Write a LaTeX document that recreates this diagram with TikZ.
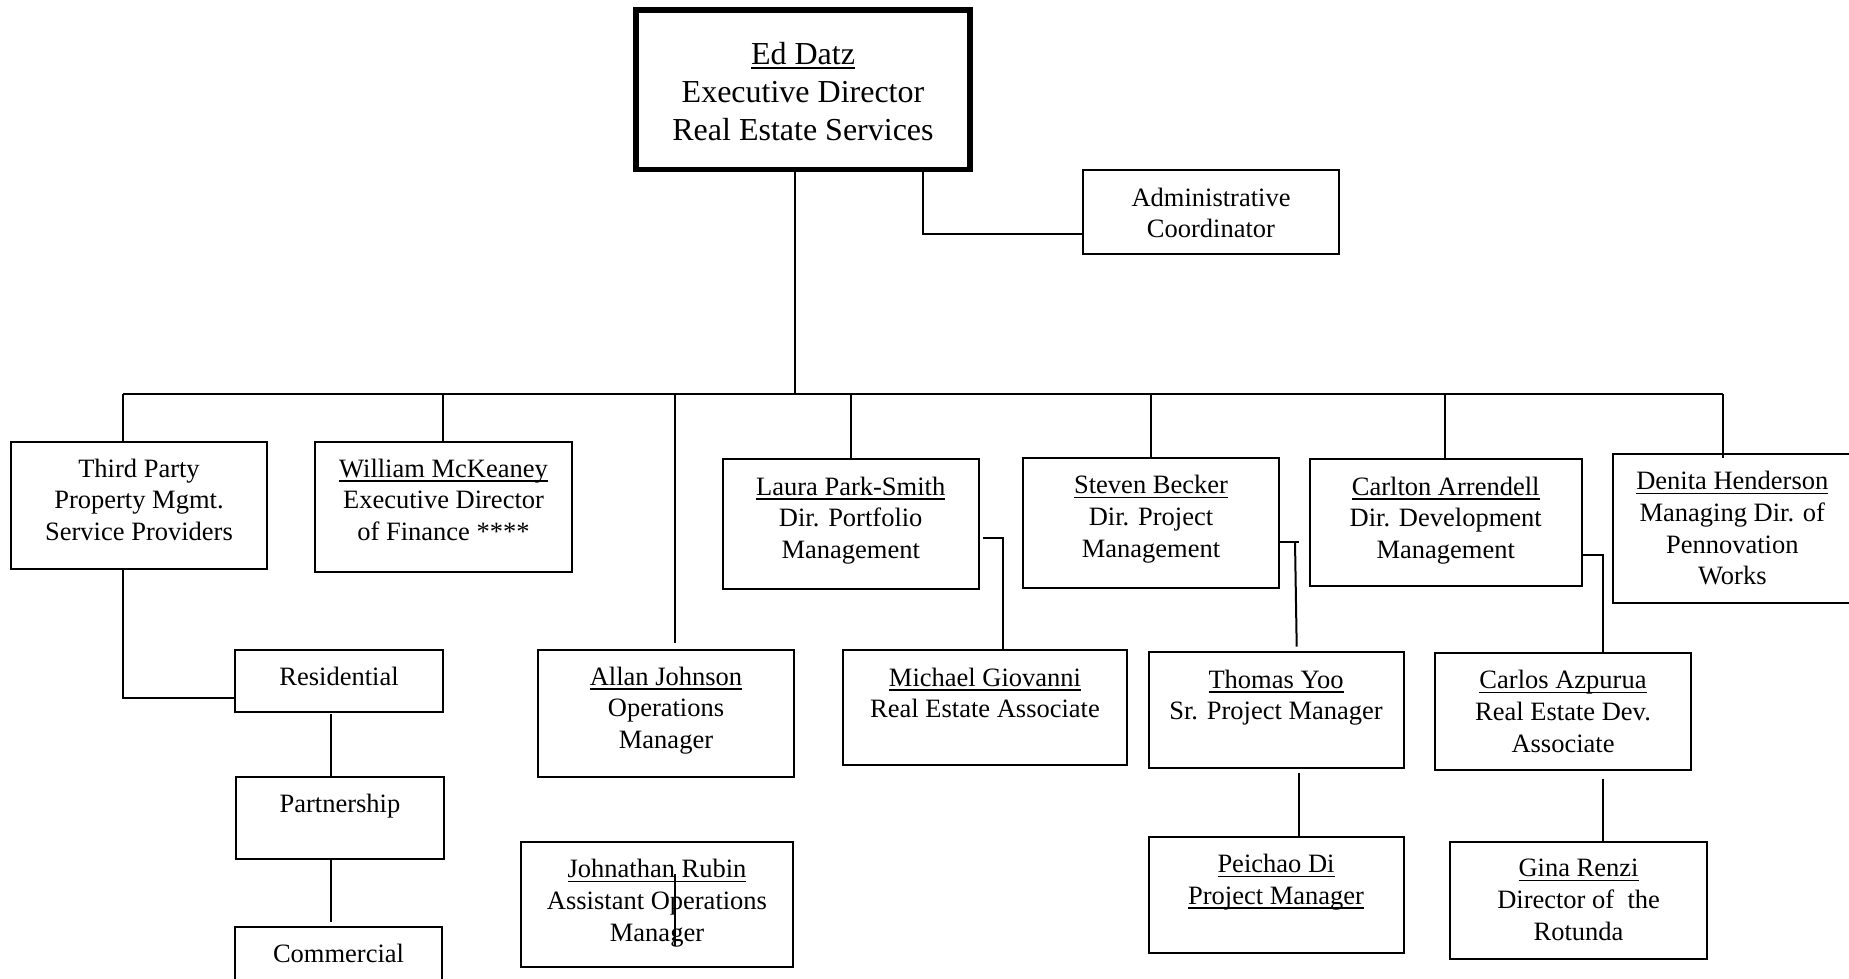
\documentclass[tikz,border=0pt]{standalone}
\usepackage{fontspec}
\setmainfont{Liberation Serif}
\newsavebox\ulbox
\newcommand\uln[1]{\sbox\ulbox{#1}\rlap{\rule[-4.5pt]{\wd\ulbox}{1.5pt}}\usebox\ulbox}
\begin{document}
\begin{tikzpicture}[x=1pt,y=-1pt,
  box/.style={draw=black, line width=2pt, anchor=north west, inner sep=0pt, outer sep=0pt},
  bigbox/.style={box, line width=5.5pt},
  txt/.style={anchor=north, align=center, inner sep=0pt, font=\fontsize{26.5}{31.7}\selectfont},
  bigtxt/.style={anchor=north, align=center, inner sep=0pt, font=\fontsize{32}{38}\selectfont},
  conn/.style={draw=black, line width=2pt}]
\useasboundingbox (0,0) rectangle (1849,978);
\clip (0,0) rectangle (1849,978);
\fill[white] (0,0) rectangle (1849,978);

% boxes
\node[bigbox, minimum width=334pt, minimum height=159.5pt] (ed) at (636,10) {};
\node[box, minimum width=256pt, minimum height=84pt] (admin) at (1083,170) {};
\node[box, minimum width=256pt, minimum height=127pt] (third) at (11,442) {};
\node[box, minimum width=257pt, minimum height=129.5pt] (mck) at (315,442) {};
\node[box, minimum width=208pt, minimum height=62pt] (res) at (235,649.5) {};
\node[box, minimum width=208pt, minimum height=82pt] (part) at (236,777) {};
\node[box, minimum width=207pt, minimum height=80pt] (comm) at (235,927) {};
\node[box, minimum width=256pt, minimum height=127pt] (allan) at (538,649.5) {};
\node[box, minimum width=272pt, minimum height=125pt] (rubin) at (521,842) {};
\node[box, minimum width=256pt, minimum height=130pt] (laura) at (722.7,459) {};
\node[box, minimum width=256pt, minimum height=130pt] (steven) at (1023,457.8) {};
\node[box, minimum width=272pt, minimum height=127pt] (carlton) at (1309.7,459) {};
\node[box, minimum width=238pt, minimum height=148.4pt] (denita) at (1613.3,454.3) {};
\node[box, minimum width=284pt, minimum height=115pt] (michael) at (843,650) {};
\node[box, minimum width=255pt, minimum height=116pt] (thomas) at (1148.5,652) {};
\node[box, minimum width=256pt, minimum height=117pt] (carlos) at (1435,652.7) {};
\node[box, minimum width=255pt, minimum height=116.5pt] (peichao) at (1148.5,836.5) {};
\node[box, minimum width=256.5pt, minimum height=117pt] (gina) at (1450.3,841.5) {};

% texts
\node[bigtxt] (edT) at ([yshift=-31.7pt]ed.north) {\uln{Ed Datz}\\Executive Director\\Real Estate Services};
\node[txt] (adminT) at ([yshift=-17.5pt]admin.north) {Administrative\\Coordinator};
\node[txt] (thirdT) at ([yshift=-16.5pt]third.north) {Third Party\\Property Mgmt.\\Service Providers};
\node[txt] (mckT) at ([yshift=-16.5pt]mck.north) {\uln{William McKeaney}\\Executive Director\\of Finance ****};
\node[txt] (resT) at ([yshift=-17pt]res.north) {Residential};
\node[txt] (partT) at ([yshift=-17pt]part.north) {Partnership};
\node[txt] (commT) at ([yshift=-17pt]comm.north) {Commercial};
\node[txt] (allanT) at ([yshift=-17pt]allan.north) {\uln{Allan Johnson}\\Operations\\Manager};
\node[txt] (rubinT) at ([yshift=-17pt]rubin.north) {\uln{Johnathan Rubin}\\Assistant Operations\\Manager};
\node[txt] (lauraT) at ([yshift=-17.5pt]laura.north) {\uln{Laura Park-Smith}\\Dir. Portfolio\\Management};
\node[txt] (stevenT) at ([yshift=-17.5pt]steven.north) {\uln{Steven Becker}\\Dir. Project\\Management};
\node[txt] (carltonT) at ([yshift=-17.5pt]carlton.north) {\uln{Carlton Arrendell}\\Dir. Development\\Management};
\node[txt] (denitaT) at ([yshift=-17pt]denita.north) {\uln{Denita Henderson}\\Managing Dir. of\\Pennovation\\Works};
\node[txt] (michaelT) at ([yshift=-17.5pt]michael.north) {\uln{Michael Giovanni}\\Real Estate Associate};
\node[txt] (thomasT) at ([yshift=-17.5pt]thomas.north) {\uln{Thomas Yoo}\\Sr. Project Manager};
\node[txt] (carlosT) at ([yshift=-17.5pt]carlos.north) {\uln{Carlos Azpurua}\\Real Estate Dev.\\Associate};
\node[txt] (peichaoT) at ([yshift=-17.5pt]peichao.north) {\uln{Peichao Di}\\\uln{Project Manager}};
\node[txt] (ginaT) at ([yshift=-17.5pt]gina.north) {\uln{Gina Renzi}\\Director of\ \ the\\Rotunda};

% connector points
\coordinate (bL) at (122.5,394);
\coordinate (bR) at (1723.3,394);
\coordinate (jE) at (795,394);
\coordinate (jM) at (443.2,394);
\coordinate (jA) at (675,394);
\coordinate (aEnd) at (675,643);
\coordinate (jL) at (851,394);
\coordinate (jS) at (1151,394);
\coordinate (jC) at (1445,394);
\coordinate (dEnd) at (1723.3,457.5);
\coordinate (aK) at (923.3,233.5);
\coordinate (rK) at (123,697.5);
\coordinate (rpTop) at (331,714);
\coordinate (pcBot) at (331,921.6);
\coordinate (rubA) at (675,874.3);
\coordinate (rubB) at (675,946);
\coordinate (lmA) at (983.3,537.7);
\coordinate (lmK) at (1002.7,537.7);
\coordinate (stK) at (1298.5,541.7);
\coordinate (stA) at (1295,541.7);
\coordinate (stB) at (1296.7,646.7);
\coordinate (tpTop) at (1298.7,772.8);
\coordinate (ccK) at (1602.7,555);
\coordinate (cgTop) at (1602.7,778.5);

% connectors
\draw[conn] (bL) -- (bR);
\draw[conn] (jE |- ed.south) -- (jE);
\draw[conn] (aK |- ed.south) -- (aK) -- (admin.west |- aK);
\draw[conn] (bL) -- (bL |- third.north);
\draw[conn] (jM) -- (jM |- mck.north);
\draw[conn] (jA) -- (aEnd);
\draw[conn] (jL) -- (jL |- laura.north);
\draw[conn] (jS) -- (jS |- steven.north);
\draw[conn] (jC) -- (jC |- carlton.north);
\draw[conn] (bR) -- (dEnd);
\draw[conn] (rK |- third.south) -- (rK) -- (res.west |- rK);
\draw[conn] (rpTop) -- (rpTop |- part.north);
\draw[conn] (rpTop |- part.south) -- (pcBot);
\draw[conn] (rubA) -- (rubB);
\draw[conn] (lmA) -- (lmK) -- (lmK |- michael.north);
\draw[conn] (steven.east |- stK) -- (stK);
\draw[conn] (stA) -- (stB);
\draw[conn] (tpTop) -- (tpTop |- peichao.north);
\draw[conn] (carlton.east |- ccK) -- (ccK) -- (ccK |- carlos.north);
\draw[conn] (cgTop) -- (cgTop |- gina.north);
\end{tikzpicture}
\end{document}
